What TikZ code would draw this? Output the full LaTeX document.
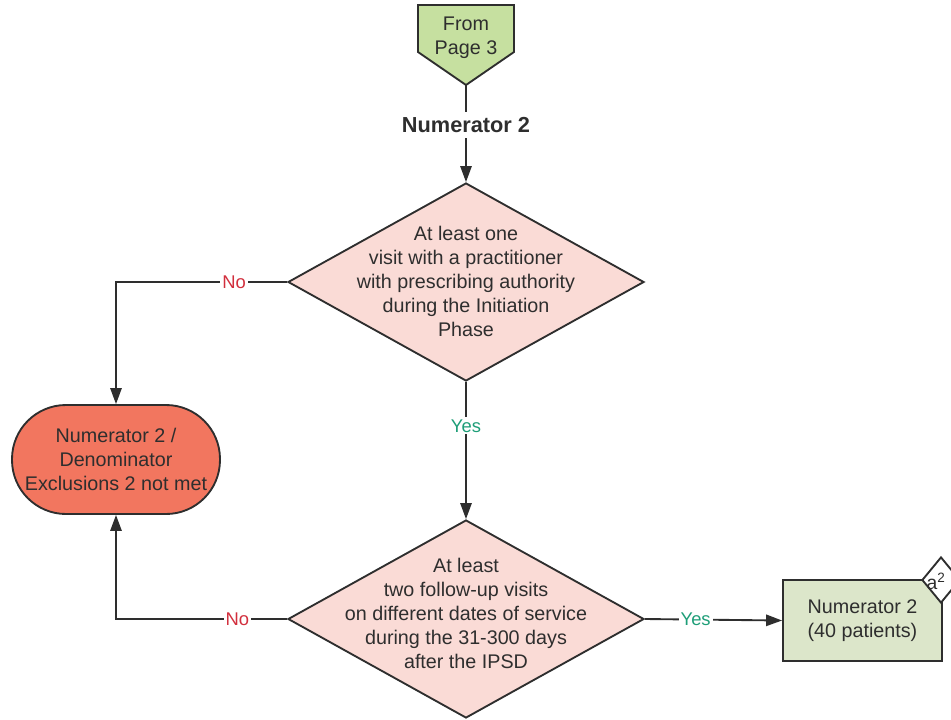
\documentclass[tikz,border=0pt]{standalone}
\usepackage{fontspec}
\setmainfont{Liberation Sans}
\usetikzlibrary{arrows.meta,shapes.geometric}
\definecolor{startgreen}{HTML}{C6E0A0}
\definecolor{endgreen}{HTML}{DCE6CA}
\definecolor{askpink}{HTML}{FADBD6}
\definecolor{failred}{HTML}{F2765F}
\definecolor{linegray}{HTML}{2E2E2E}
\definecolor{yesgreen}{HTML}{1E9E78}
\definecolor{nored}{HTML}{D22F3D}

\begin{document}
\begin{tikzpicture}[x=0.75pt,y=-0.75pt,
    font=\fontsize{14.8}{18}\selectfont, text=linegray,
    box/.style={draw=linegray, line width=1.4pt},
    ask/.style={box, diamond, fill=askpink, inner sep=0pt, minimum width=267pt, minimum height=148.5pt},
    arr/.style={draw=linegray, line width=1.4pt, -{Triangle[length=12pt,width=8.5pt]}},
    yes/.style={fill=white, text=yesgreen, inner sep=1.5pt, font=\fontsize{13.8}{16}\selectfont},
    no/.style={fill=white, text=nored, inner sep=1.5pt, font=\fontsize{13.8}{16}\selectfont}]
    \useasboundingbox (0,0) rectangle (951,719);
    \draw[box, fill=startgreen] (418,5) -- (514,5) -- (514,52) -- (466,85) coordinate (tip) -- (418,52) -- cycle;
    \node[align=center] (from) at (466,37.5) {From\\Page 3};
    \node[font=\fontsize{16.3}{18}\bfseries, inner sep=4pt] (title) at (466,125) {Numerator 2};
    \node[ask] (q1) at (466,282) {};
    \node[align=center] at (466,281) {At least one\\visit with a practitioner\\with prescribing authority\\during the Initiation\\Phase};
    \node[ask] (q2) at (466,619) {};
    \node[align=center] at (466,613.5) {At least\\two follow-up visits\\on different dates of service\\during the 31-300 days\\after the IPSD};
    \node[box, rounded corners=40.5pt, fill=failred, minimum width=156pt, minimum height=81.75pt, align=center] (fail) at (116,459.5) {Numerator 2 /\\Denominator\\Exclusions 2 not met};
    \node[box, fill=endgreen, minimum width=119.25pt, minimum height=60.75pt, align=center] (num) at (862.5,620.5) {Numerator 2\\(40 patients)};
    \node[box, diamond, fill=white, inner sep=0pt, minimum width=28.5pt, minimum height=34.5pt] (tag) at (941,580) {};
    \node[font=\fontsize{14.5}{16}\selectfont, inner sep=0pt] at (936,581) {a\textsuperscript{2}};
    \draw[draw=linegray, line width=1.4pt] (tip) -- (title.north);
    \draw[arr] (title.south) -- (q1.north);
    \draw[arr] (q1.west) -| node[no, pos=0.155]{No} (fail.north);
    \draw[arr] (q1.south) -- node[yes, pos=0.32]{Yes} (q2.north);
    \draw[arr] (q2.west) -| node[no, pos=0.145]{No} (fail.south);
    \draw[arr] (q2.east) -- node[yes, pos=0.37]{Yes} (num.west);
\end{tikzpicture}
\end{document}
